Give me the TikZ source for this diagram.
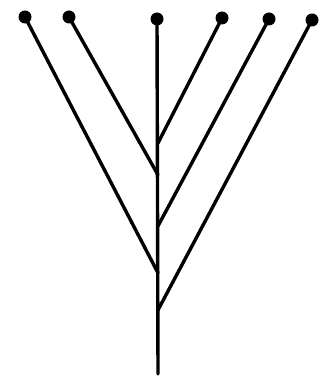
\documentclass[tikz,border=0pt]{standalone}
\begin{document}
\begin{tikzpicture}[x=1pt,y=-1pt,
  leaf/.style={circle,fill=black,inner sep=0pt,minimum size=13pt},
  branch/.style={line width=3.4pt,line cap=round}]
\useasboundingbox (0,0) rectangle (323,379);
\node[leaf] (a) at (25,17) {};
\node[leaf] (b) at (69,17) {};
\node[leaf] (c) at (157,19) {};
\node[leaf] (d) at (222,18) {};
\node[leaf] (e) at (269,19) {};
\node[leaf] (f) at (312,20) {};
\coordinate (j1) at (158,143);
\coordinate (j2) at (158,175);
\coordinate (j3) at (158,226);
\coordinate (j4) at (158,273);
\coordinate (j5) at (158,310);
\coordinate (root) at (158,374);
\draw[branch] (c.center) -- (root);
\draw[branch] (a.center) -- (j4);
\draw[branch] (b.center) -- (j2);
\draw[branch] (d.center) -- (j1);
\draw[branch] (e.center) -- (j3);
\draw[branch] (f.center) -- (j5);
\end{tikzpicture}
\end{document}
